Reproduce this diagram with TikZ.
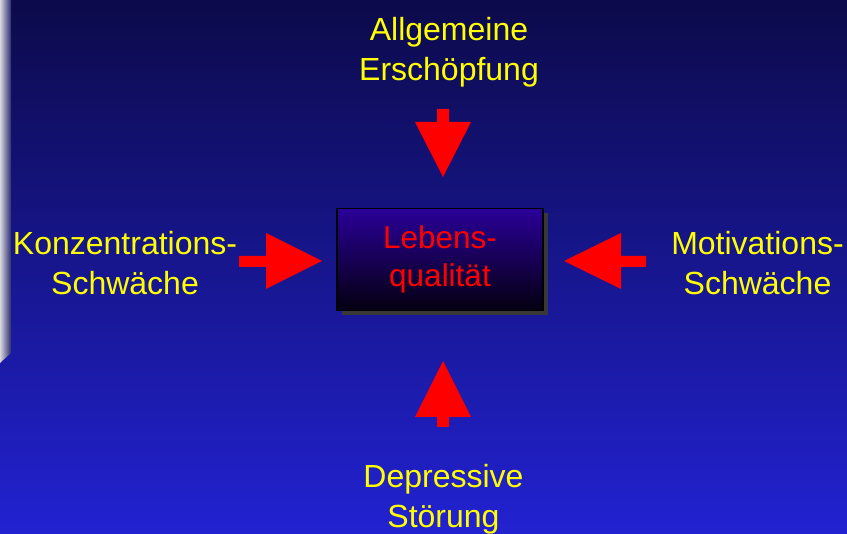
\documentclass[tikz,border=0pt]{standalone}
\usepackage{fontspec}
\setmainfont{Liberation Sans}
\usetikzlibrary{shadows}
\definecolor{bgtop}{RGB}{12,10,74}
\definecolor{bgbottom}{RGB}{34,34,210}
\definecolor{barlight}{RGB}{214,214,222}
\definecolor{barmid}{RGB}{180,180,196}
\definecolor{bardark}{RGB}{44,44,112}
\definecolor{boxtop}{RGB}{42,0,152}
\definecolor{boxbottom}{RGB}{4,0,16}
\definecolor{factoryellow}{RGB}{255,255,0}
\tikzset{
  factor/.style={text=factoryellow, align=center, inner sep=0pt,
    font=\fontsize{32}{39.5}\selectfont},
  centrebox/.style={draw=black, line width=1.2pt, top color=boxtop, bottom color=boxbottom,
    minimum width=206pt, minimum height=102pt, inner sep=0pt, align=center,
    text=red, font=\fontsize{31.5}{38}\selectfont,
    drop shadow={shadow xshift=5pt, shadow yshift=-5pt, fill=black!78, opacity=1}},
  blockarrow/.style={fill=red}
}
\begin{document}
\begin{tikzpicture}[x=1pt,y=-1pt]
	%%%%% BACKGROUND %%%%%
	\shade[top color=bgtop, bottom color=bgbottom] (0,0) rectangle (847,534);
	\useasboundingbox (0,0) rectangle (847,534);
	\shade[left color=barlight, middle color=barmid, right color=bardark] (0,0) -- (11,0) -- (11,353) -- (0,363) -- cycle;
	
	%%%%% CENTRE %%%%%
	\node[centrebox] (lebensqualitaet) at (440,259.5) {Lebens-\\qualität};
	
	%%%%% FACTORS %%%%%
	\node[factor] (erschoepfung) at (449,52) {Allgemeine\\Erschöpfung};
	\node[factor] (konzentration) at (125,263) {Konzentrations-\\Schwäche};
	\node[factor] (motivation) at (757.5,263) {Motivations-\\Schwäche};
	\node[factor] (depression) at (443.5,499) {Depressive\\Störung};
	
	%%%%% ARROWS %%%%%
	\fill[blockarrow] (437,109) -- (449,109) -- (449,122) -- (471,122) -- (443,177) -- (415,122) -- (437,122) -- cycle;
	\fill[blockarrow] (239,256) -- (266,256) -- (266,233) -- (322,261) -- (266,289) -- (266,267) -- (239,267) -- cycle;
	\fill[blockarrow] (646,256) -- (621,256) -- (621,233) -- (564,261) -- (621,289) -- (621,267) -- (646,267) -- cycle;
	\fill[blockarrow] (437,427) -- (449,427) -- (449,417) -- (471,417) -- (443,361) -- (415,417) -- (437,417) -- cycle;
	
\end{tikzpicture}
\end{document}
